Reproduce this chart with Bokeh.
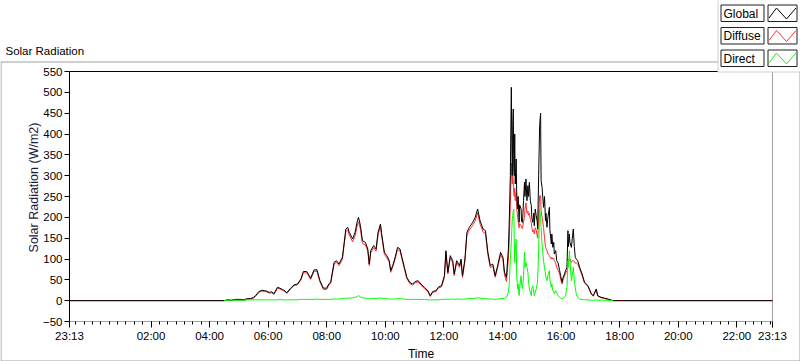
import math
from bokeh.plotting import figure
from bokeh.models import Range1d, FixedTicker
from bokeh.core.properties import value
from bokeh.embed import file_html
from bokeh.resources import INLINE

# ---------------- data ----------------
TIMES = [
    "04:30", "04:36", "04:45", "04:53", "05:04", "05:10", "05:17", "05:24", "05:30", "05:34",
    "05:41", "05:47", "05:52", "05:57", "06:02", "06:07", "06:12", "06:19", "06:24", "06:29",
    "06:34", "06:38", "06:46", "06:53", "07:00", "07:07", "07:12", "07:19", "07:23", "07:27",
    "07:34", "07:40", "07:46", "07:53", "08:00", "08:04", "08:08", "08:15", "08:20", "08:25",
    "08:32", "08:39", "08:43", "08:46", "08:53", "08:58", "09:02", "09:05", "09:09", "09:13",
    "09:19", "09:24", "09:27", "09:30", "09:36", "09:41", "09:45", "09:50", "09:52", "09:58",
    "10:03", "10:08", "10:11", "10:15", "10:20", "10:25", "10:30", "10:34", "10:39", "10:44",
    "10:50", "10:56", "11:01", "11:07", "11:13", "11:20", "11:27", "11:32", "11:37", "11:44",
    "11:48", "11:55", "12:01", "12:04", "12:08", "12:13", "12:18", "12:21", "12:26", "12:32",
    "12:35", "12:38", "12:43", "12:47", "12:52", "12:59", "13:04", "13:09", "13:14", "13:20",
    "13:25", "13:30", "13:35", "13:40", "13:45", "13:50", "13:56", "14:01", "14:04", "14:08",
    "14:12", "14:14", "14:16", "14:18", "14:19", "14:20", "14:21", "14:22", "14:23", "14:24",
    "14:25", "14:26", "14:28", "14:29", "14:31", "14:32", "14:34", "14:35", "14:38", "14:39",
    "14:41", "14:43", "14:45", "14:46", "14:48", "14:50", "14:52", "14:53", "14:55", "14:57",
    "14:59", "15:00", "15:02", "15:04", "15:05", "15:07", "15:09", "15:11", "15:12", "15:14",
    "15:16", "15:18", "15:19", "15:21", "15:24", "15:26", "15:28", "15:29", "15:31", "15:33",
    "15:36", "15:37", "15:40", "15:41", "15:43", "15:45", "15:46", "15:49", "15:51", "15:54",
    "15:57", "15:59", "16:02", "16:04", "16:07", "16:09", "16:12", "16:14", "16:15", "16:17",
    "16:18", "16:21", "16:23", "16:25", "16:27", "16:29", "16:31", "16:34", "16:38", "16:43",
    "16:48", "16:55", "17:02", "17:06", "17:12", "17:15", "17:22", "17:29", "17:36", "17:46",
]

GLOBAL = [
    0, 2, 1, 3, 3, 2, 5, 5, 8, 12,
    22, 25, 24, 23, 20, 21, 17, 32, 30, 27,
    24, 19, 30, 38, 40, 52, 70, 70, 62, 54,
    74, 74, 48, 30, 30, 40, 44, 92, 96, 88,
    104, 172, 176, 164, 148, 164, 188, 200, 180, 144,
    140, 124, 88, 120, 132, 124, 164, 184, 164, 116,
    108, 96, 72, 84, 104, 128, 124, 104, 80, 56,
    44, 40, 46, 48, 40, 32, 24, 12, 22, 24,
    32, 36, 60, 120, 68, 108, 96, 64, 96, 84,
    100, 60, 100, 164, 176, 188, 200, 220, 192, 172,
    168, 116, 84, 88, 60, 84, 116, 104, 68, 56,
    124, 200, 300, 512, 380, 300, 420, 460, 320, 300,
    400, 280, 340, 260, 220, 250, 188, 230, 220, 190,
    188, 240, 284, 250, 292, 240, 276, 250, 284, 240,
    228, 200, 188, 210, 180, 220, 204, 190, 172, 300,
    420, 450, 288, 272, 224, 250, 192, 210, 176, 200,
    224, 170, 136, 160, 128, 140, 112, 120, 96, 90,
    72, 60, 44, 56, 64, 72, 80, 168, 130, 160,
    140, 128, 150, 172, 130, 104, 100, 96, 80, 64,
    44, 36, 16, 12, 28, 12, 8, 6, 4, 0,
]

DIFFUSE = [
    0, 1, 1, 2, 2, 1, 3, 4, 6, 10,
    20, 23, 22, 21, 18, 19, 15, 30, 28, 25,
    22, 17, 28, 36, 38, 49, 67, 67, 59, 51,
    71, 70, 45, 27, 27, 37, 41, 88, 92, 84,
    99, 166, 170, 158, 141, 156, 178, 189, 171, 137,
    134, 119, 84, 115, 127, 119, 158, 178, 158, 111,
    103, 92, 68, 80, 100, 123, 119, 100, 76, 53,
    41, 37, 43, 45, 37, 29, 22, 10, 20, 22,
    30, 33, 56, 115, 64, 103, 91, 60, 91, 80,
    95, 56, 95, 157, 169, 181, 192, 211, 184, 165,
    161, 110, 79, 83, 56, 79, 110, 98, 62, 46,
    100, 150, 230, 330, 300, 280, 300, 280, 260, 250,
    270, 240, 260, 220, 200, 190, 175, 185, 180, 175,
    173, 190, 200, 220, 235, 210, 215, 205, 210, 195,
    187, 175, 165, 170, 160, 175, 170, 155, 150, 200,
    252, 252, 216, 200, 176, 150, 130, 125, 120, 112,
    108, 105, 100, 104, 100, 102, 96, 90, 80, 72,
    64, 52, 40, 50, 58, 66, 72, 100, 95, 96,
    100, 92, 96, 96, 94, 90, 90, 88, 76, 60,
    42, 34, 15, 11, 26, 11, 7, 5, 3, 0,
]

DIRECT = [
    0, 1, 1, 1, 1, 1, 2, 2, 2, 2,
    2, 2, 2, 2, 2, 2, 2, 2, 3, 2,
    2, 2, 2, 2, 2, 3, 3, 3, 3, 3,
    3, 4, 3, 3, 3, 3, 3, 4, 4, 4,
    5, 6, 6, 6, 7, 8, 10, 12, 9, 7,
    6, 5, 4, 5, 5, 5, 6, 6, 6, 5,
    5, 4, 4, 4, 4, 5, 5, 4, 4, 3,
    3, 3, 3, 3, 3, 3, 2, 2, 2, 2,
    2, 3, 3, 4, 3, 4, 4, 3, 4, 4,
    4, 3, 4, 5, 5, 5, 6, 7, 6, 5,
    5, 4, 4, 4, 3, 4, 5, 5, 5, 8,
    20, 44, 100, 140, 170, 196, 205, 215, 220, 150,
    92, 120, 148, 60, 28, 40, 12, 30, 60, 40,
    28, 60, 116, 80, 92, 80, 68, 50, 28, 20,
    12, 30, 36, 20, 12, 20, 28, 40, 52, 120,
    220, 200, 176, 136, 96, 80, 64, 56, 48, 60,
    72, 50, 32, 40, 24, 20, 16, 24, 20, 12,
    8, 6, 4, 6, 8, 12, 32, 96, 80, 120,
    100, 48, 60, 80, 50, 32, 16, 8, 4, 3,
    2, 2, 1, 1, 2, 1, 1, 1, 1, 0,
]

NIGHT_VALUE = 0
WINDOW_START = "23:13"   # previous day
WINDOW_END = "23:13"
TICK_LABELS = ["23:13", "02:00", "04:00", "06:00", "08:00", "10:00", "12:00",
               "14:00", "16:00", "18:00", "20:00", "22:00", "23:13"]
Y_TICKS = [-50, 0, 50, 100, 150, 200, 250, 300, 350, 400, 450, 500, 550]
SERIES = ["Global", "Diffuse", "Direct"]
COLORS = ["#000000", "#ff3030", "#00ff00"]
TITLE = "Solar Radiation"
X_TITLE = "Time"
Y_TITLE = "Solar Radiation (W/m2)"


def to_min(t):
    h, m = t.split(":")
    return int(h) * 60 + int(m)


X_START = to_min(WINDOW_START) - 1440
X_END = to_min(WINDOW_END)
Y_MIN, Y_MAX = Y_TICKS[0], Y_TICKS[-1]

xs = [to_min(t) for t in TIMES]
full_x = [X_START] + xs + [X_END]
full_global = [NIGHT_VALUE] + GLOBAL + [NIGHT_VALUE]
full_diffuse = [NIGHT_VALUE] + DIFFUSE + [NIGHT_VALUE]

major_pos = [X_START] + [to_min(t) for t in TICK_LABELS[1:-1]] + [X_END]
overrides = {pos: lab for pos, lab in zip(major_pos, TICK_LABELS)}
step = 120 / 7
minor_pos = [i * step for i in range(-10, 100) if X_START <= i * step <= X_END]

# ---------------- layout geometry (pixels) ----------------
W, H = 800, 361
PL, PR, PT, PB = 69, 772, 71, 321      # plot area inside the canvas


def xd(px):
    return X_START + (px - PL) * (X_END - X_START) / (PR - PL)


def yd(py):
    return Y_MAX - (py - PT) * (Y_MAX - Y_MIN) / (PB - PT)


p = figure(width=W, height=H, output_backend="svg", toolbar_location=None,
           x_range=Range1d(xd(0), xd(W)), y_range=Range1d(yd(H), yd(0)),
           min_border=0, min_border_left=0, min_border_right=0,
           min_border_top=0, min_border_bottom=0,
           background_fill_color="white", border_fill_color="white",
           outline_line_color=None)
p.xgrid.visible = False
p.ygrid.visible = False

FONT = "Liberation Sans"
GREY = "#a0a0a0"

# outer panel frame
p.quad(left=[xd(0.5)], right=[xd(W - 0.5)], top=[yd(61.5)], bottom=[yd(H - 0.5)],
       fill_color=None, line_color=GREY, line_width=1)

# plot area borders: dark top, grey right
p.segment(x0=[X_START], y0=[Y_MAX], x1=[X_END], y1=[Y_MAX], line_color="black", line_width=1)
p.segment(x0=[X_END], y0=[Y_MIN], x1=[X_END], y1=[Y_MAX], line_color=GREY, line_width=1)

# data
p.line(full_x, full_diffuse, line_color=COLORS[1], line_width=1)
p.line(full_x, full_global, line_color=COLORS[0], line_width=1)
p.line(xs, DIRECT, line_color=COLORS[2], line_width=1)

# axes at the plot area edges
xa = p.xaxis[0]
xa.fixed_location = Y_MIN
xa.bounds = (X_START, X_END)
xa.ticker = FixedTicker(ticks=major_pos, minor_ticks=minor_pos)
xa.major_label_overrides = overrides
xa.axis_line_color = GREY
xa.major_tick_line_color = "black"
xa.minor_tick_line_color = "black"
xa.major_tick_out = 6
xa.major_tick_in = 0
xa.minor_tick_out = 3
xa.minor_tick_in = 0
xa.major_label_standoff = 2
xa.major_label_text_font = FONT
xa.major_label_text_font_size = "11.5px"
xa.major_label_text_color = "black"

ya = p.yaxis[0]
ya.fixed_location = X_START
ya.bounds = (Y_MIN, Y_MAX)
ya.ticker = FixedTicker(ticks=Y_TICKS)
ya.minor_tick_line_color = None
ya.axis_line_color = "black"
ya.major_tick_line_color = "black"
ya.major_tick_out = 5
ya.major_tick_in = 0
ya.major_label_standoff = 2
ya.major_label_text_font = FONT
ya.major_label_text_font_size = "11.5px"
ya.major_label_text_color = "black"

# axis titles and chart title
p.text(x=[xd((PL + PR) / 2)], y=[yd(353)], text=[X_TITLE], text_font=value(FONT),
       text_font_size=value("12px"), text_color="black",
       text_align="center", text_baseline="middle")
p.text(x=[xd(33)], y=[yd(187)], text=[Y_TITLE], text_font=value(FONT),
       text_font_size=value("12.5px"), text_color="#1a1a40", angle=math.pi / 2,
       text_align="center", text_baseline="middle")
p.text(x=[xd(5)], y=[yd(50)], text=[TITLE], text_font=value(FONT),
       text_font_size=value("11.5px"), text_color="black",
       text_align="left", text_baseline="middle")

# legend panel
p.quad(left=[xd(717.5)], right=[xd(W + 5)], top=[yd(-5)], bottom=[yd(71.5)],
       fill_color="white", line_color="#d0d0d0", line_width=1)
tops = [4.5, 27, 49.5]
for name, color, top in zip(SERIES, COLORS, tops):
    bot = top + 16.5
    p.quad(left=[xd(720.5)], right=[xd(763.5)], top=[yd(top)], bottom=[yd(bot)],
           fill_color="white", line_color="#202020", line_width=1)
    p.quad(left=[xd(767.5)], right=[xd(796.5)], top=[yd(top)], bottom=[yd(bot)],
           fill_color="white", line_color="#202020", line_width=1)
    p.text(x=[xd(723)], y=[yd(top + 8.5)], text=[name], text_font=value(FONT),
           text_font_size=value("12px"), text_color="black",
           text_align="left", text_baseline="middle")
    zx = [768.5, 776, 786, 795.5]
    zy = [top + 13, top + 3, top + 14, top + 3]
    p.line([xd(v) for v in zx], [yd(v) for v in zy], line_color=color, line_width=1)

open("out.html", "w").write(file_html(p, INLINE))
